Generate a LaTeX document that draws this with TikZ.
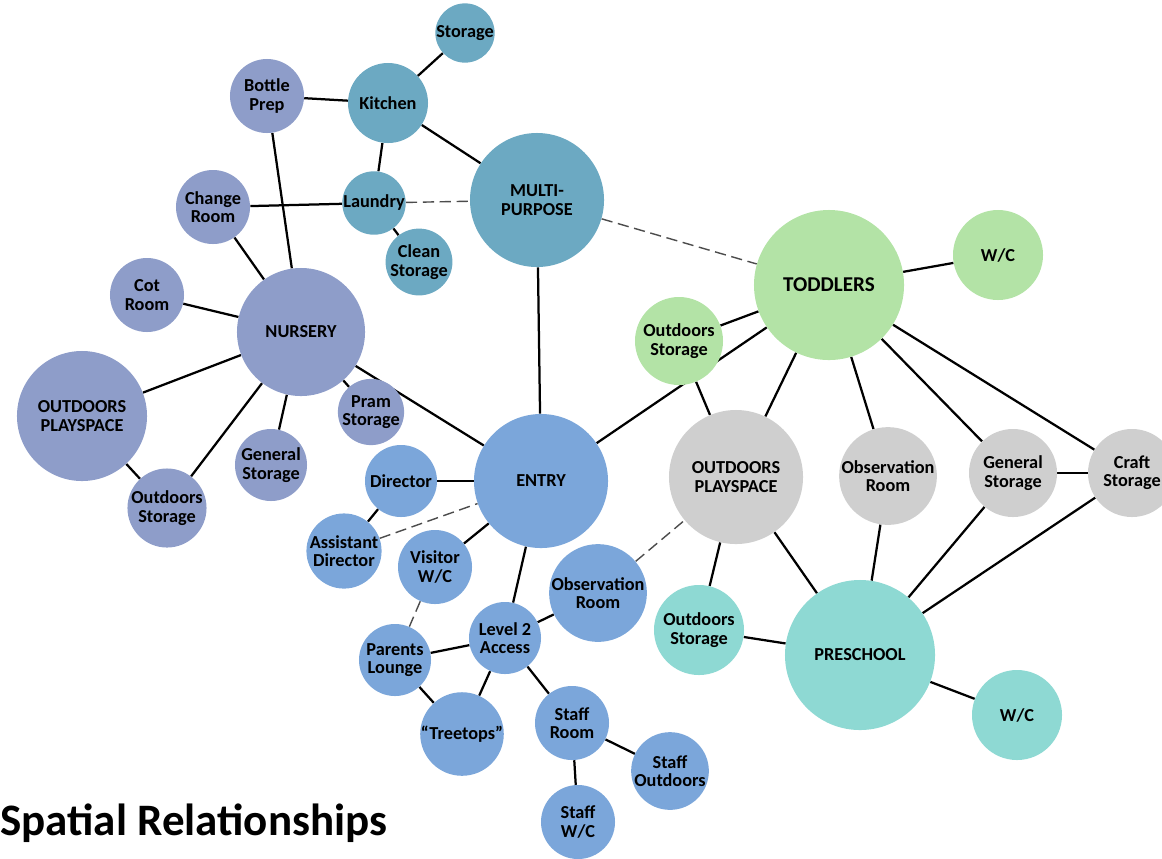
\documentclass[tikz,border=0pt]{standalone}
\usepackage{fontspec}
\setmainfont{Carlito}
\usepackage{tikz}
\usetikzlibrary{backgrounds}
\definecolor{kitchenblue}{HTML}{6CA9C2}
\definecolor{nurserymauve}{HTML}{8E9DC9}
\definecolor{entryblue}{HTML}{7BA6DA}
\definecolor{toddlergreen}{HTML}{B3E3A6}
\definecolor{playgray}{HTML}{CFCFCF}
\definecolor{preschoolteal}{HTML}{8ED9D3}
\tikzset{
  room/.style={circle, inner sep=0pt, align=center,
    font=\fontsize{13}{13}\selectfont\bfseries},
  link/.style={line width=1.6pt},
  weak/.style={draw=black!70, line width=1pt, dash pattern=on 8pt off 4pt}
}

\begin{document}
\begin{tikzpicture}[x=0.025cm, y=-0.025cm]
    \useasboundingbox (0,0) rectangle (1162,858);

    % kitchen wing
    \node (ST) [room, fill=kitchenblue, minimum size=1.45cm] at (465,33) {Storage};
    \node (K) [room, fill=kitchenblue, minimum size=2cm] at (388,103) {Kitchen};
    \node (LA) [room, fill=kitchenblue, minimum size=1.45cm] at (374,203) {Laundry};
    \node (CS) [room, fill=kitchenblue, minimum size=1.45cm] at (419,262) {Clean\\Storage};
    \node (MP) [room, fill=kitchenblue, minimum size=3.35cm] at (537,200) {MULTI-\\PURPOSE};

    % nursery
    \node (BP) [room, fill=nurserymauve, minimum size=1.85cm] at (267,96) {Bottle\\Prep};
    \node (CR) [room, fill=nurserymauve, minimum size=1.85cm] at (213,207) {Change\\Room};
    \node (CO) [room, fill=nurserymauve, minimum size=1.85cm] at (147,295) {Cot\\Room};
    \node (N) [room, fill=nurserymauve, minimum size=3.2cm] at (301,332) {NURSERY};
    \node (NP) [room, fill=nurserymauve, minimum size=3.25cm] at (82,416) {OUTDOORS\\PLAYSPACE};
    \node (PS) [room, fill=nurserymauve, minimum size=1.45cm] at (371,412) {Pram\\Storage};
    \node (NG) [room, fill=nurserymauve, minimum size=1.8cm] at (271,465) {General\\Storage};
    \node (NO) [room, fill=nurserymauve, minimum size=1.85cm] at (167,508) {Outdoors\\Storage};

    % entry
    \node (E) [room, fill=entryblue, minimum size=3.35cm] at (541,481) {ENTRY};
    \node (D) [room, fill=entryblue, minimum size=1.8cm] at (401,481) {Director};
    \node (AD) [room, fill=entryblue, minimum size=1.8cm] at (344,551) {Assistant\\Director};
    \node (V) [room, fill=entryblue, minimum size=1.85cm] at (435,567) {Visitor\\W/C};
    \node (L2) [room, fill=entryblue, minimum size=1.8cm] at (505,638) {Level 2\\Access};
    \node (OB) [room, fill=entryblue, minimum size=1.8cm] at (598,593) {Observation\\Room};
    \node (PL) [room, fill=entryblue, minimum size=1.8cm] at (395,660) {Parents\\Lounge};
    \node (T) [room, fill=entryblue, minimum size=1.85cm] at (462,734) {``Treetops''};
    \node (SR) [room, fill=entryblue, minimum size=1.85cm] at (572,723) {Staff\\Room};
    \node (SO) [room, fill=entryblue, minimum size=1.85cm] at (670,771) {Staff\\Outdoors};
    \node (SW) [room, fill=entryblue, minimum size=1.85cm] at (578,822) {Staff\\W/C};

    % toddlers
    \node (TD) [room, fill=toddlergreen, minimum size=3.75cm,
      font=\fontsize{15}{15}\selectfont\bfseries] at (829,285) {TODDLERS};
    \node (TW) [room, fill=toddlergreen, minimum size=2.25cm] at (998,255) {W/C};
    \node (TO) [room, fill=toddlergreen, minimum size=2.2cm] at (679,341) {Outdoors\\Storage};

    % shared
    \node (OP) [room, fill=playgray, minimum size=3.35cm] at (736,477) {OUTDOORS\\PLAYSPACE};
    \node (OR) [room, fill=playgray, minimum size=2.25cm] at (888,476) {Observation\\Room};
    \node (GS) [room, fill=playgray, minimum size=2.2cm] at (1013,473) {General\\Storage};
    \node (CF) [room, fill=playgray, minimum size=2.2cm] at (1132,473) {Craft\\Storage};

    % preschool
    \node (P) [room, fill=preschoolteal, minimum size=3.75cm] at (860,655) {PRESCHOOL};
    \node (PO) [room, fill=preschoolteal, minimum size=2.25cm] at (699,630) {Outdoors\\Storage};
    \node (PW) [room, fill=preschoolteal, minimum size=2.25cm] at (1017,715) {W/C};

    \node (title) [anchor=base west, inner sep=0pt,
      font=\fontsize{32}{32}\selectfont\bfseries] at (0,835) {Spatial Relationships};

    \begin{scope}[on background layer]
    \draw [link] (ST) -- (K);
    \draw [link] (BP) -- (K);
    \draw [link] (K) -- (LA);
    \draw [link] (K) -- (MP);
    \draw [link] (CR) -- (LA);
    \draw [link] (LA) -- (CS);
    \draw [link] (BP) -- (N);
    \draw [link] (CR) -- (N);
    \draw [link] (CO) -- (N);
    \draw [link] (N) -- (NP);
    \draw [link] (N) -- (NO);
    \draw [link] (N) -- (NG);
    \draw [link] (N) -- (PS);
    \draw [link] (N) -- (E);
    \draw [link] (NP) -- (NO);
    \draw [link] (MP) -- (E);
    \draw [link] (D) -- (E);
    \draw [link] (D) -- (AD);
    \draw [link] (V) -- (E);
    \draw [link] (E) -- (L2);
    \draw [link] (E) -- (TD);
    \draw [link] (L2) -- (OB);
    \draw [link] (L2) -- (PL);
    \draw [link] (L2) -- (T);
    \draw [link] (L2) -- (SR);
    \draw [link] (PL) -- (T);
    \draw [link] (SR) -- (SO);
    \draw [link] (SR) -- (SW);
    \draw [link] (TD) -- (TW);
    \draw [link] (TD) -- (TO);
    \draw [link] (TD) -- (OP);
    \draw [link] (TD) -- (OR);
    \draw [link] (TD) -- (GS);
    \draw [link] (TD) -- (CF);
    \draw [link] (TO) -- (OP);
    \draw [link] (GS) -- (CF);
    \draw [link] (OP) -- (PO);
    \draw [link] (OP) -- (P);
    \draw [link] (OR) -- (P);
    \draw [link] (GS) -- (P);
    \draw [link] (CF) -- (P);
    \draw [link] (PO) -- (P);
    \draw [link] (P) -- (PW);

    \draw [weak] (LA) -- (MP);
    \draw [weak] (MP) -- (TD);
    \draw [weak] (AD) -- (E);
    \draw [weak] (V) -- (PL);
    \draw [weak] (OB) -- (OP);
    \end{scope}
\end{tikzpicture}
\end{document}
